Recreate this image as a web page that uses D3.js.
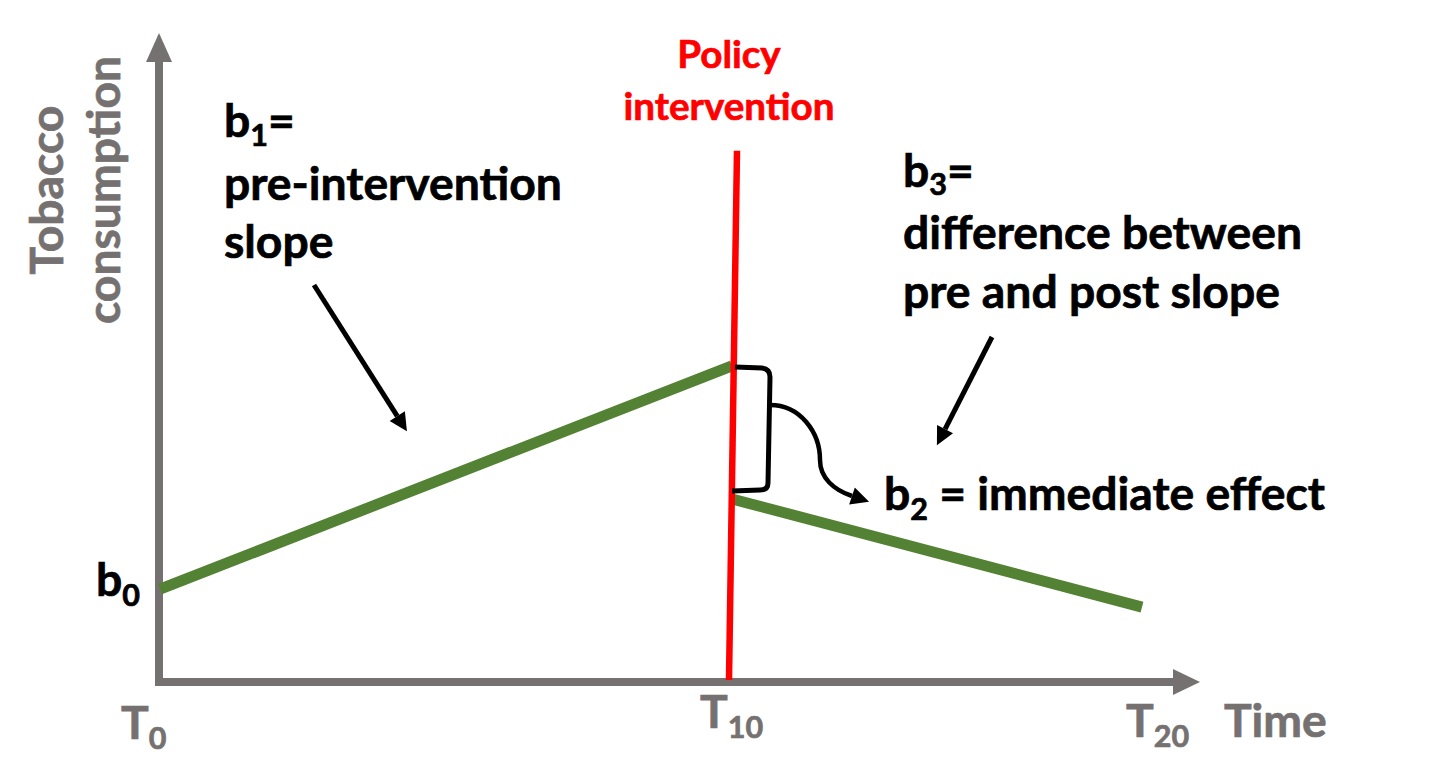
<!DOCTYPE html>
<html>
<head>
<meta charset="utf-8">
<script src="https://cdn.jsdelivr.net/npm/d3@7"></script>
<style>
  html, body { margin: 0; padding: 0; background: #ffffff; }
  svg { display: block; }
</style>
</head>
<body>
<svg id="chart" width="1456" height="783"></svg>
<script>
// ---------------- data ----------------
const periods = [0, 10, 20];                 // time points on the x axis
const tickSubscripts = ["0", "10", "20"];    // T0, T10, T20
const preTime = [0, 10];
const preValues = [14.5, 49.4];              // pre-intervention segment
const postTime = [10, 20];
const postValues = [28.6, 11.7];             // post-intervention segment
const interventionTime = 10;
const interventionTop = 83;                  // top of the policy line (value units)
const yAxisTitle = ["Tobacco", "consumption"];
const xAxisTitle = "Time";
const policyLabel = ["Policy", "intervention"];
const b1Label = ["pre-intervention", "slope"];
const b3Label = ["difference between", "pre and post slope"];
const b2Label = " = immediate effect";

// ---------------- setup ----------------
const svg = d3.select("#chart");
const AXIS = "#767171", GREEN = "#548235", RED = "#ff0000", BLACK = "#000000";
const FONT = "Lato, Carlito, Calibri, 'Noto Sans', sans-serif";

const x = d3.scaleLinear().domain([0, 10, 20]).range([160, 732, 1142]);
const y = d3.scaleLinear().domain([0, 100]).range([682, 42]);

// font scale so that Lato bold matches the reference text widths
const probe = svg.append("text").attr("font-family", FONT).attr("font-weight", "bold")
  .attr("font-size", 48).text("pre-intervention");
const k = 338 / probe.node().getComputedTextLength();
probe.remove();
const FS = 48 * k, SUB = FS * 0.66, FSR = 40 * k;

// ---------------- markers ----------------
const defs = svg.append("defs");
function marker(id, len, wid, color) {
  defs.append("marker").attr("id", id)
    .attr("viewBox", "0 0 10 10").attr("refX", 0).attr("refY", 5)
    .attr("markerUnits", "userSpaceOnUse")
    .attr("markerWidth", len).attr("markerHeight", wid)
    .attr("orient", "auto")
    .append("path").attr("d", "M0,0 L10,5 L0,10 Z").attr("fill", color);
}
marker("arrowBlack", 20, 18, BLACK);

// ---------------- axes ----------------
const x0 = x(0) - 1, yBase = y(0);
svg.append("line").attr("x1", x0).attr("y1", yBase + 4).attr("x2", x0).attr("y2", 60)
  .attr("stroke", AXIS).attr("stroke-width", 8);
svg.append("path").attr("d", `M${x0},33 L${x0 + 13},62 L${x0 - 13},62 Z`).attr("fill", AXIS);
svg.append("line").attr("x1", x0 - 4).attr("y1", yBase).attr("x2", 1175).attr("y2", yBase)
  .attr("stroke", AXIS).attr("stroke-width", 8);
svg.append("path").attr("d", `M1200,${yBase} L1173,${yBase - 13} L1173,${yBase + 13} Z`).attr("fill", AXIS);

// ---------------- series ----------------
const line = d3.line().x(d => x(d[0])).y(d => y(d[1]));
svg.append("path").datum(d3.zip(preTime, preValues)).attr("d", line)
  .attr("fill", "none").attr("stroke", GREEN).attr("stroke-width", 11);
svg.append("path").datum(d3.zip(postTime, postValues)).attr("d", line)
  .attr("fill", "none").attr("stroke", GREEN).attr("stroke-width", 11);

// policy intervention line (slightly tilted as in the reference)
svg.append("line")
  .attr("x1", x(interventionTime) + 5).attr("y1", y(interventionTop))
  .attr("x2", x(interventionTime) - 3).attr("y2", y(0) - 2)
  .attr("stroke", RED).attr("stroke-width", 6.5);

// ---------------- annotations ----------------
// bracket for b2
svg.append("path")
  .attr("d", "M735,367 L762,368 Q770,369 770,377 L768,483 Q768,490 760,490 L732,491")
  .attr("fill", "none").attr("stroke", BLACK).attr("stroke-width", 5);

// curved arrow to b2 label
svg.append("path")
  .attr("d", "M770,405 C800,405 820,432 820,460 C820,478 834,490 852,496")
  .attr("fill", "none").attr("stroke", BLACK).attr("stroke-width", 4.5)
  .attr("marker-end", "url(#arrowBlack)");

function straightArrow(x1, y1, x2, y2) {
  const dx = x2 - x1, dy = y2 - y1, L = Math.hypot(dx, dy);
  const ex = x2 - dx / L * 20, ey = y2 - dy / L * 20;
  svg.append("line").attr("x1", x1).attr("y1", y1).attr("x2", ex).attr("y2", ey)
    .attr("stroke", BLACK).attr("stroke-width", 5)
    .attr("marker-end", "url(#arrowBlack)");
}
straightArrow(314, 285, 408, 433);
straightArrow(992, 337, 936, 447);

// ---------------- text ----------------
function txt(xp, yp, color, size) {
  return svg.append("text").attr("x", xp).attr("y", yp)
    .attr("font-family", FONT).attr("font-weight", "bold")
    .attr("font-size", size).attr("fill", color)
    .attr("stroke", color).attr("stroke-width", 0.7);
}
function subText(xp, yp, color, main, sub, rest, off) {
  const o = off || 10;
  const t = txt(xp, yp, color, FS);
  t.append("tspan").text(main);
  t.append("tspan").attr("dy", o).attr("font-size", SUB).text(sub);
  if (rest) t.append("tspan").attr("dy", -o).text(rest);
  return t;
}

// y axis title
yAxisTitle.forEach((s, i) => {
  svg.append("text").attr("transform", `translate(${[63, 120][i]},190) rotate(-90)`)
    .attr("text-anchor", "middle").attr("font-family", FONT).attr("font-weight", "bold")
    .attr("font-size", FS).attr("fill", AXIS)
    .attr("stroke", AXIS).attr("stroke-width", 0.7).text(s);
});

// x ticks
const tickDx = [-39, -32, -16], tickY = [739, 728, 737];
periods.forEach((p, i) => subText(x(p) + tickDx[i], tickY[i], AXIS, "T", tickSubscripts[i]));
txt(1224, 737, AXIS, FS).text(xAxisTitle);

// policy label
policyLabel.forEach((s, i) => {
  txt(x(interventionTime) - 3, [68, 120][i], RED, FSR).attr("text-anchor", "middle").text(s);
});

// b1
subText(224, 137, BLACK, "b", "1", "=", 9);
b1Label.forEach((s, i) => txt(224, [200, 258][i], BLACK, FS).text(s));

// b3
subText(903, 187, BLACK, "b", "3", "=", 8);
b3Label.forEach((s, i) => txt(903, [249, 308][i], BLACK, FS).text(s));

// b2
subText(884, 510, BLACK, "b", "2", b2Label);

// b0
subText(96, 596, BLACK, "b", "0");
</script>
</body>
</html>
